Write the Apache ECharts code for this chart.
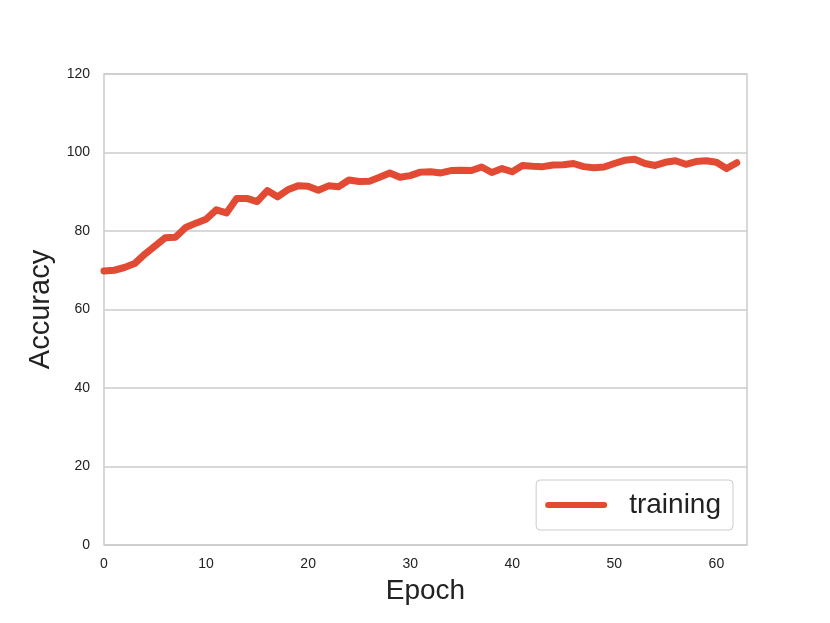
<!DOCTYPE html>
<html>
<head>
<meta charset="utf-8">
<script src="https://cdn.jsdelivr.net/npm/echarts@6/dist/echarts.min.js"></script>
<style>html,body{margin:0;padding:0;background:#fff}#c{width:830px;height:623px}</style>
</head>
<body>
<div id="c"></div>
<script>
var epochs = [];
for (var k = 0; k <= 62; k++) epochs.push(k);
var training = [69.8, 70.0, 70.7, 71.7, 74.1, 76.2, 78.3, 78.4, 80.9, 82.0, 83.0, 85.4, 84.6, 88.3, 88.3, 87.5, 90.3, 88.7, 90.5, 91.5, 91.4, 90.4, 91.5, 91.3, 93.0, 92.6, 92.7, 93.7, 94.8, 93.7, 94.1, 95.0, 95.1, 94.8, 95.4, 95.5, 95.4, 96.3, 94.9, 95.9, 95.1, 96.7, 96.5, 96.4, 96.8, 96.9, 97.2, 96.4, 96.1, 96.3, 97.2, 98.0, 98.3, 97.2, 96.7, 97.5, 97.9, 97.0, 97.7, 97.9, 97.5, 95.9, 97.4];
var yTicks = [0, 20, 40, 60, 80, 100, 120];
var font = '"Liberation Sans", Arial, Helvetica, sans-serif';
var chart = echarts.init(document.getElementById('c'), null, {renderer: 'canvas'});
chart.setOption({
  animation: false,
  backgroundColor: '#ffffff',
  grid: {left: 104, right: 83, top: 74, bottom: 78, show: true, borderColor: '#cccccc', borderWidth: 1.5},
  xAxis: {
    type: 'value', min: 0, max: 63, interval: 10,
    name: 'Epoch', nameLocation: 'middle', nameGap: 32,
    nameTextStyle: {fontFamily: font, fontSize: 28, color: '#222'},
    axisLine: {show: false}, axisTick: {show: false},
    splitLine: {show: false},
    axisLabel: {fontFamily: font, fontSize: 14, color: '#222', margin: 12, showMaxLabel: false}
  },
  yAxis: {
    type: 'value', min: yTicks[0], max: yTicks[yTicks.length - 1], interval: 20,
    name: 'Accuracy', nameLocation: 'middle', nameGap: 45,
    nameTextStyle: {fontFamily: font, fontSize: 29, color: '#222'},
    axisLine: {show: false}, axisTick: {show: false},
    splitLine: {show: true, lineStyle: {color: '#cccccc', width: 1.5}},
    axisLabel: {fontFamily: font, fontSize: 14, color: '#222', margin: 14}
  },
  legend: {
    right: 97, bottom: 93,
    data: [{name: 'training', icon: 'path://M3,0 L59,0 A3,3 0 0 1 59,6 L3,6 A3,3 0 0 1 3,0 Z'}],
    itemWidth: 62, itemHeight: 7, itemGap: 10,
    backgroundColor: '#ffffff',
    borderColor: '#cccccc', borderWidth: 1, borderRadius: 4,
    padding: [11, 12, 11, 9],
    textStyle: {fontFamily: font, fontSize: 28, color: '#222', padding: [0, 0, 0, 17]}
  },
  series: [{
    name: 'training', type: 'line',
    data: epochs.map(function (e, i) { return [e, training[i]]; }),
    showSymbol: false, symbol: 'none',
    color: '#e24a33',
    lineStyle: {width: 7, color: '#e24a33', join: 'round', cap: 'round'}
  }]
});
</script>
</body>
</html>
